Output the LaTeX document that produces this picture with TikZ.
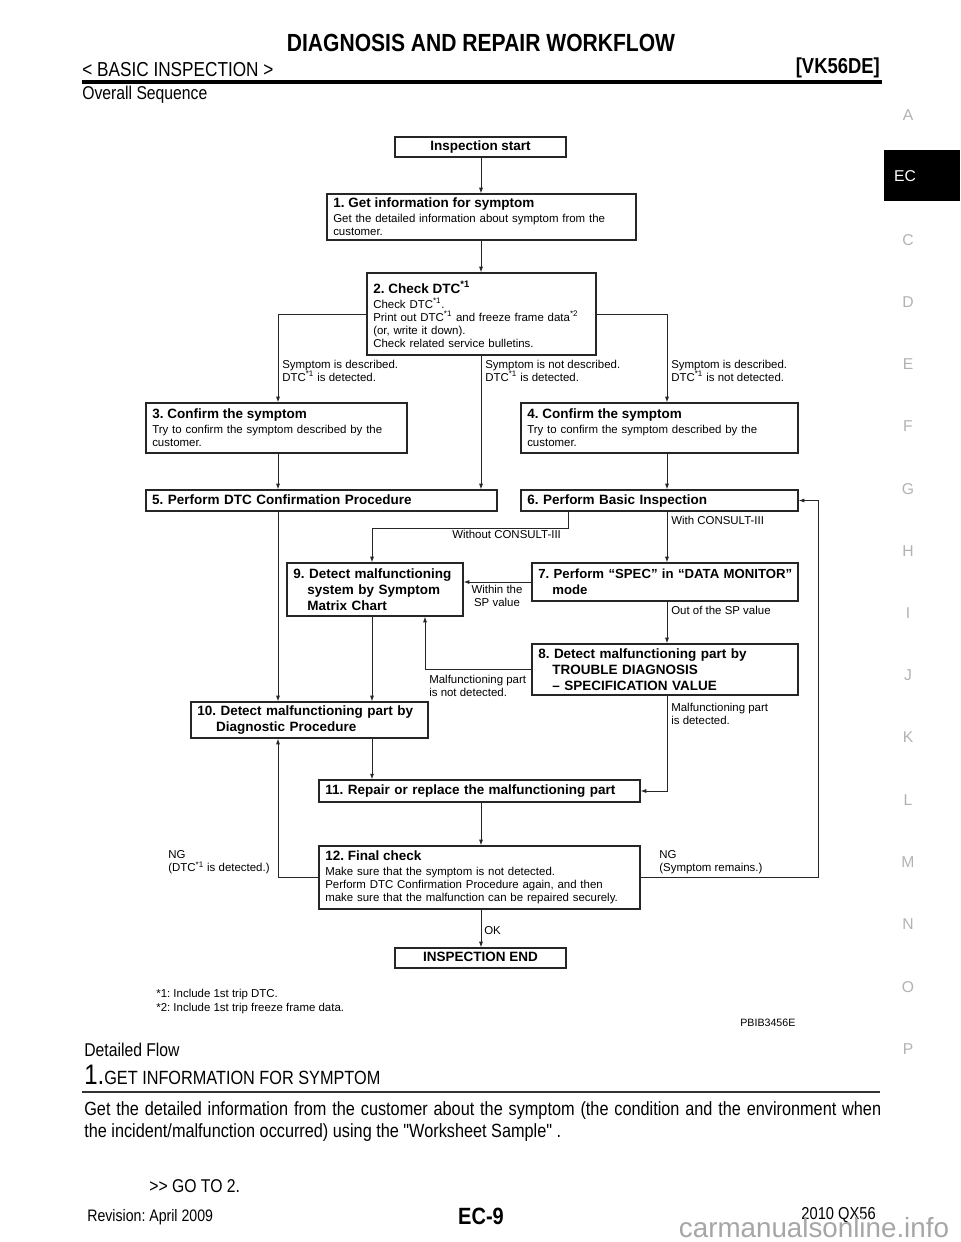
\documentclass[tikz,border=0pt]{standalone}
\usepackage{fontspec}
\setmainfont{Liberation Sans}
\newfontfamily\narrowfont[FakeStretch=0.85]{Liberation Sans}
\usetikzlibrary{arrows.meta}
\newcommand{\ttl}[1]{{\fontsize{8.6}{10.2}\selectfont\bfseries #1}}
\newcommand{\dtc}{DTC\textsuperscript{*1}}
\newcommand{\bodyfont}{\narrowfont\fontsize{11.8}{14}\selectfont}

\begin{document}
\frenchspacing
\begin{tikzpicture}[x=0.6375pt, y=-0.6375pt,
    stepbox/.style 2 args={draw=black!85, line width=0.8pt, inner xsep=4pt, inner ysep=0pt,
      text width=#1pt, minimum height=#2pt, align=left, font=\fontsize{7.3}{8.3}\selectfont},
    boldbox/.style 2 args={stepbox={#1}{#2}, font=\fontsize{8.6}{10.2}\selectfont\bfseries},
    oneline/.style={text height=6.3pt, text depth=1.7pt},
    termbox/.style={draw=black!85, line width=0.8pt, inner sep=0pt, minimum width=109pt,
      minimum height=12.75pt, oneline, font=\fontsize{8.6}{10.2}\selectfont\bfseries},
    lbl/.style={inner sep=0pt, anchor=west, align=left, font=\fontsize{7.3}{8.3}\selectfont},
    txt/.style={inner sep=0pt, anchor=west, font=\bodyfont},
    tab/.style={text=black!30, font=\fontsize{10}{12}\selectfont},
    arr/.style={draw=black!85, line width=0.6pt, -{Latex[length=3.6pt, width=2.6pt]}}]
  \useasboundingbox (0,0) rectangle (960,1242);

  \node[font=\narrowfont\fontsize{15.8}{18}\selectfont\bfseries] (title) at (481,43) {DIAGNOSIS AND REPAIR WORKFLOW};
  \node[txt, font=\narrowfont\fontsize{12.9}{14}\selectfont] (sect) at (82,70) {< BASIC INSPECTION >};
  \node[txt, anchor=east, font=\narrowfont\fontsize{13.8}{15}\selectfont\bfseries] (model) at (880,68) {[VK56DE]};
  \draw[line width=2pt] (82,82) -- (882,82);
  \node[txt] (ovs) at (82,95) {Overall Sequence};

  \fill (884,150) rectangle (960,201);
  \node[text=white, font=\fontsize{10}{12}\selectfont] (tEC) at (905,176) {EC};
  \node[tab] (tA) at (908,115) {A};
  \node[tab] (tC) at (908,240) {C};
  \node[tab] (tD) at (908,302) {D};
  \node[tab] (tE) at (908,364) {E};
  \node[tab] (tF) at (908,426) {F};
  \node[tab] (tG) at (908,489) {G};
  \node[tab] (tH) at (908,551) {H};
  \node[tab] (tI) at (908,613) {I};
  \node[tab] (tJ) at (908,675) {J};
  \node[tab] (tK) at (908,737) {K};
  \node[tab] (tL) at (908,800) {L};
  \node[tab] (tM) at (908,862) {M};
  \node[tab] (tN) at (908,924) {N};
  \node[tab] (tO) at (908,987) {O};
  \node[tab] (tP) at (908,1049) {P};

  \node[termbox] (start) at (480.5,147) {Inspection start};
  \node[stepbox={189}{29.3}] (b1) at (481.5,217) {\ttl{1. Get information for symptom}\\[1.3pt]
    Get the detailed information about symptom from the\\ customer.};
  \node[stepbox={138}{52.3}] (b2) at (481.5,314) {\ttl{2. Check \dtc}\\[1.3pt]
    Check \dtc.\\ Print out \dtc{} and freeze frame data\textsuperscript{*2}\\
    (or, write it down).\\ Check related service bulletins.};
  \node[stepbox={158.4}{31.9}] (b3) at (276.5,428) {\ttl{3. Confirm the symptom}\\[1.3pt]
    Try to confirm the symptom described by the\\ customer.};
  \node[stepbox={168.6}{31.9}] (b4) at (659.5,428) {\ttl{4. Confirm the symptom}\\[1.3pt]
    Try to confirm the symptom described by the\\ customer.};
  \node[boldbox={215.8}{13.4}, oneline] (b5) at (321.5,500.5) {5. Perform DTC Confirmation Procedure};
  \node[boldbox={168.6}{13.4}, oneline] (b6) at (659.5,500.5) {6. Perform Basic Inspection};
  \node[boldbox={161.6}{24.2}, font=\fontsize{8.4}{10.2}\selectfont\bfseries] (b7) at (665,582)
    {\mbox{7. Perform “SPEC” in “DATA MONITOR”}\\ \hspace*{9pt}mode};
  \node[boldbox={104.2}{33.8}] (b9) at (375,589.5) {9. Detect malfunctioning\\
    \hspace*{9pt}system by Symptom\\ \hspace*{9pt}Matrix Chart};
  \node[boldbox={161.6}{32.5}] (b8) at (665,669.5) {8. Detect malfunctioning part by\\
    \hspace*{9pt}TROUBLE DIAGNOSIS\\ \hspace*{9pt}– SPECIFICATION VALUE};
  \node[boldbox={143.1}{23}] (b10) at (309.5,720) {10. Detect malfunctioning part by\\
    \hspace*{12pt}Diagnostic Procedure};
  \node[boldbox={196.6}{14}, oneline] (b11) at (479.5,791) {11. Repair or replace the malfunctioning part};
  \node[stepbox={196.6}{40.2}] (b12) at (479.5,877.5) {\ttl{12. Final check}\\[1.3pt]
    Make sure that the symptom is not detected.\\ Perform DTC Confirmation Procedure again, and then\\
    make sure that the malfunction can be repaired securely.};
  \node[termbox] (end) at (480.5,958) {INSPECTION END};

  \coordinate (xm) at (481,0);
  \coordinate (xl) at (278,0);
  \coordinate (xr) at (667,0);
  \coordinate (x9) at (372,0);
  \coordinate (x9b) at (425,0);
  \coordinate (x6) at (568,0);
  \coordinate (xloop) at (818,0);

  \draw[arr] (xm |- start.south) -- (xm |- b1.north);
  \draw[arr] (xm |- b1.south) -- (xm |- b2.north);
  \draw[arr] (b2.west) -| (xl |- b3.north);
  \draw[arr] (b2.east) -| (xr |- b4.north);
  \draw[arr] (xm |- b2.south) -- (xm |- b5.north);
  \draw[arr] (xl |- b3.south) -- (xl |- b5.north);
  \draw[arr] (xr |- b4.south) -- (xr |- b6.north);
  \draw[arr] (xl |- b5.south) -- (xl |- b10.north);
  \draw[arr] (x6 |- b6.south) -- ++(0,17) -| (x9 |- b9.north);
  \draw[arr] (xr |- b6.south) -- (xr |- b7.north);
  \draw[arr] (b7.west) -- (b7.west -| b9.east);
  \draw[arr] (xr |- b7.south) -- (xr |- b8.north);
  \draw[arr] (b8.west) -| (x9b |- b9.south);
  \draw[arr] (x9 |- b9.south) -- (x9 |- b10.north);
  \draw[arr] (x9 |- b10.south) -- (x9 |- b11.north);
  \draw[arr] (xr |- b8.south) |- (b11.east);
  \draw[arr] (xm |- b11.south) -- (xm |- b12.north);
  \draw[arr] (b12.west) -| (xl |- b10.south);
  \draw[arr] (b12.east) -| (xloop |- b6.east) -- (b6.east);
  \draw[arr] (xm |- b12.south) -- (xm |- end.north);

  \node[lbl] (l1) at (282,370.5) {Symptom is described.\\ \dtc{} is detected.};
  \node[lbl] (l2) at (485,370.5) {Symptom is not described.\\ \dtc{} is detected.};
  \node[lbl] (l3) at (671,370.5) {Symptom is described.\\ \dtc{} is not detected.};
  \node[lbl] (l4) at (452,534) {Without CONSULT-III};
  \node[lbl] (l5) at (671,520) {With CONSULT-III};
  \node[lbl, anchor=center, align=center] (l6) at (497,596) {Within the\\ SP value};
  \node[lbl] (l7) at (671,610) {Out of the SP value};
  \node[lbl] (l8) at (429,685.5) {Malfunctioning part\\ is not detected.};
  \node[lbl] (l9) at (671,714) {Malfunctioning part\\ is detected.};
  \node[lbl] (l10) at (168,862.5) {NG\\ (\dtc{} is detected.)};
  \node[lbl] (l11) at (659,862.5) {NG\\ (Symptom remains.)};
  \node[lbl] (l12) at (484,931) {OK};

  \node[lbl] (fn1) at (156,995) {*1: Include 1st trip DTC.};
  \node[lbl] (fn2) at (156,1009) {*2: Include 1st trip freeze frame data.};
  \node[lbl, font=\fontsize{6.8}{8}\selectfont] (fig) at (740,1023) {PBIB3456E};

  \node[txt] (dflow) at (84,1050) {Detailed Flow};
  \node[anchor=base west, inner sep=0pt, font=\narrowfont] (step1) at (84,1084)
    {{\fontsize{18}{20}\selectfont 1.}{\fontsize{12.2}{14}\selectfont GET INFORMATION FOR SYMPTOM}};
  \draw[line width=0.9pt, black!80] (82,1092) -- (880,1092);
  \node[anchor=north west, inner sep=0pt, text width=508pt, align=justify,
    font=\narrowfont\fontsize{12.2}{14}\selectfont] (para) at (84,1101)
    {Get the detailed information from the customer about the symptom (the condition and the environment when\linebreak
    the incident/malfunction occurred) using the "Worksheet Sample" .};
  \node[txt] (goto) at (149,1186) {>> GO TO 2.};

  \node[txt, font=\narrowfont\fontsize{10.6}{12}\selectfont] (rev) at (87,1217) {Revision: April 2009};
  \node[font=\narrowfont\fontsize{15}{17}\selectfont\bfseries] (page) at (481,1216) {EC-9};
  \node[txt, anchor=east, font=\narrowfont\fontsize{11}{12}\selectfont] (car) at (876,1215) {2010 QX56};
  \node[text=black!35, font=\fontsize{17.7}{20}\selectfont] (wm) at (814,1228) {carmanualsonline.info};
\end{tikzpicture}
\end{document}
